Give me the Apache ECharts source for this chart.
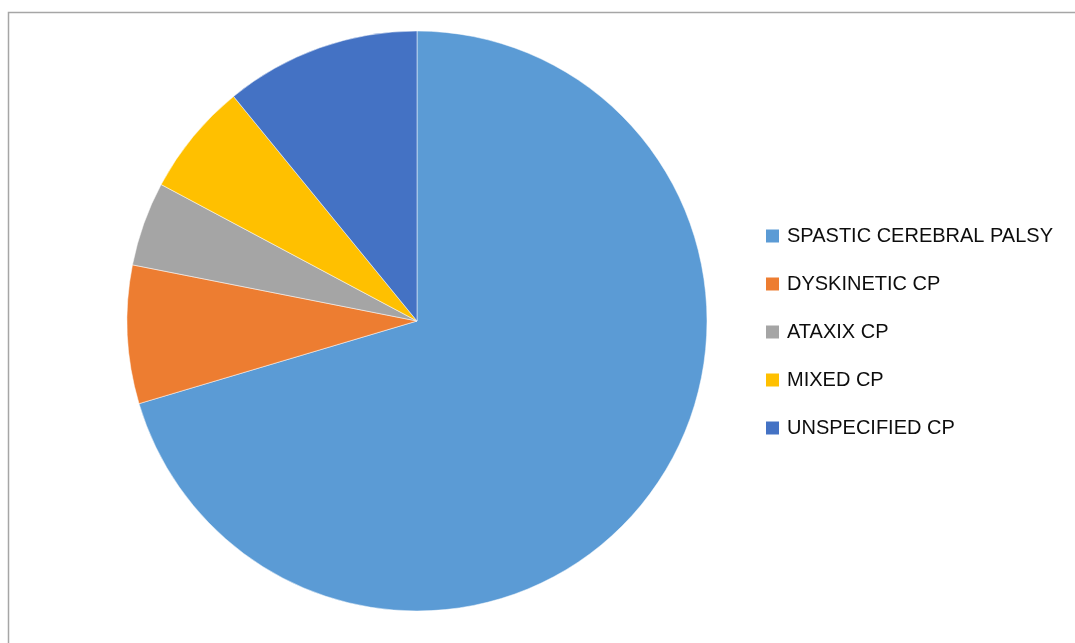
<!DOCTYPE html>
<html>
<head>
<meta charset="utf-8">
<script src="https://cdn.jsdelivr.net/npm/echarts@6/dist/echarts.min.js"></script>
<style>
html,body{margin:0;padding:0;background:#fff;}
#main{width:1075px;height:643px;}
</style>
</head>
<body>
<div id="main"></div>
<script>
const categories = ['SPASTIC CEREBRAL PALSY', 'DYSKINETIC CP', 'ATAXIX CP', 'MIXED CP', 'UNSPECIFIED CP'];
const values = [70.4, 7.7, 4.7, 6.3, 10.9];
const colors = ['#5B9BD5', '#ED7D31', '#A5A5A5', '#FFC000', '#4472C4'];

const chart = echarts.init(document.getElementById('main'), null, {renderer: 'canvas'});
chart.setOption({
  animation: false,
  backgroundColor: '#fff',
  graphic: [{
    type: 'rect',
    shape: {x: 8.5, y: 12.5, width: 1100, height: 700},
    style: {fill: 'none', stroke: '#a6a6a6', lineWidth: 1.5},
    silent: true
  }],
  legend: {
    orient: 'vertical',
    left: 764,
    top: 226,
    padding: 0,
    itemWidth: 15,
    itemHeight: 15,
    itemGap: 28,
    icon: 'rect',
    data: categories,
    textStyle: {
      fontFamily: 'Liberation Sans, Arial, sans-serif',
      fontSize: 20,
      lineHeight: 20,
      color: '#0d0d0d',
      padding: [0, 0, 0, 2]
    }
  },
  series: [{
    type: 'pie',
    center: [417, 321],
    radius: 290,
    startAngle: 90,
    clockwise: true,
    label: {show: false},
    labelLine: {show: false},
    itemStyle: {borderColor: '#ffffff', borderWidth: 0.5},
    data: categories.map((c, i) => ({name: c, value: values[i], itemStyle: {color: colors[i]}}))
  }]
});
</script>
</body>
</html>
